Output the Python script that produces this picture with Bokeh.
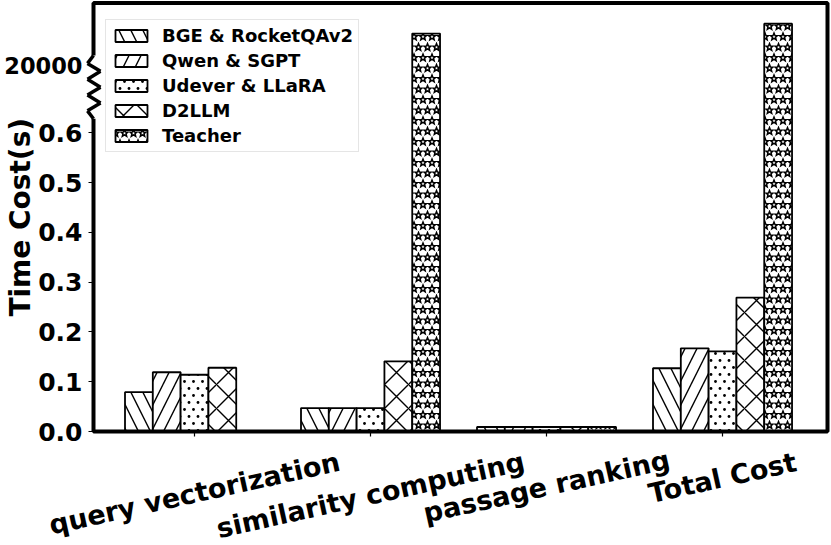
import base64
import math
import numpy as np
from bokeh.plotting import figure
from bokeh.models import (ColumnDataSource, Range1d, FixedTicker, PrintfTickFormatter,
                          BoxAnnotation, Label, LabelSet, PolyAnnotation, Arrow, ImageURLTexture)
from bokeh.core.properties import value
from bokeh.embed import file_html
from bokeh.resources import INLINE

# ---------------- data ----------------
categories = ["query vectorization", "similarity computing", "passage ranking", "Total Cost"]
series_names = ["BGE & RocketQAv2", "Qwen & SGPT", "Udever & LLaRA", "D2LLM", "Teacher"]
bge = [0.079, 0.047, 0.009, 0.127]
qwen = [0.119, 0.047, 0.009, 0.167]
udever = [0.114, 0.047, 0.009, 0.161]
d2llm = [0.128, 0.141, 0.009, 0.269]
teacher = [0.0, 20640.0, 0.009, 20840.0]      # seconds (drawn above the axis break)
y_ticks = [0.0, 0.1, 0.2, 0.3, 0.4, 0.5, 0.6]
break_tick_value = 20000
break_tick_label = "20000"

# ---------------- layout / scale constants ----------------
W, H = 831, 545
PXU_X, PXU_Y = 176.0, 498.0     # pixels per data unit
VIS_L, VIS_R, VIS_T, VIS_B = 93.0, 827.0, 2.5, 431.0   # visual plot box in canvas px
XV0 = -0.574                    # data x at the visual left edge
x_start = XV0 - VIS_L / PXU_X
x_end = x_start + W / PXU_X
XV1 = x_start + VIS_R / PXU_X
y_start = -(H - VIS_B) / PXU_Y
y_end = y_start + H / PXU_Y
YV1 = y_end - VIS_T / PXU_Y
PX_X = 1.0 / PXU_X

break_tick_pos = 0.735          # display position of the 20000 tick
upper_scale = 1e-4              # display units per second above the break
break_lo, break_hi = 0.628, 0.755


def to_display(v):
    return v if v < 1 else break_tick_pos + (v - break_tick_value) * upper_scale


# ---------------- textures ----------------
def star_path(cx, cy, ro, ri):
    pts = []
    for k in range(10):
        r = ro if k % 2 == 0 else ri
        a = -math.pi / 2 + k * math.pi / 5
        pts.append(f"{cx + r * math.cos(a):.2f},{cy + r * math.sin(a):.2f}")
    return "M" + " L".join(pts) + " Z"


def data_url(svg):
    return "data:image/svg+xml;base64," + base64.b64encode(svg.encode()).decode()


stars_svg = ('<svg xmlns="http://www.w3.org/2000/svg" width="9" height="21">'
             f'<path d="{star_path(4.5, 5.25, 3.7, 1.6)} {star_path(0, 15.75, 3.7, 1.6)} '
             f'{star_path(9, 15.75, 3.7, 1.6)}" fill="none" stroke="black" stroke-width="1.5"/></svg>')
dots_svg = ('<svg xmlns="http://www.w3.org/2000/svg" width="9" height="14">'
            '<circle cx="4.5" cy="3.5" r="1.4" fill="black"/>'
            '<circle cx="0" cy="10.5" r="1.4" fill="black"/>'
            '<circle cx="9" cy="10.5" r="1.4" fill="black"/></svg>')
textures = {"stars": ImageURLTexture(url=data_url(stars_svg)),
            "dots": ImageURLTexture(url=data_url(dots_svg))}

# ---------------- figure ----------------
p = figure(width=W, height=H, x_range=Range1d(x_start, x_end), y_range=Range1d(y_start, y_end),
           output_backend="svg", toolbar_location=None, min_border=0)
p.outline_line_color = None
p.grid.visible = False
p.background_fill_color = "white"
p.border_fill_color = "white"

bar_w = 0.158
hatches = ["\\", "/", "dots", "x", "stars"]
all_series = [bge, qwen, udever, d2llm, teacher]
for i, (name, vals) in enumerate(zip(series_names, all_series)):
    src = ColumnDataSource(dict(x=[j + (i - 2) * bar_w for j in range(len(categories))],
                                top=[to_display(v) for v in vals]))
    p.vbar(x="x", top="top", bottom=0, width=bar_w, source=src, fill_color="white",
           line_color="black", line_width=1.8,
           hatch_pattern=value(hatches[i]), hatch_color="black", hatch_weight=1.4,
           hatch_scale=24, hatch_extra=textures, legend_label=name)

# axes pinned to the visual box
p.yaxis.fixed_location = XV0
p.yaxis.bounds = (0, YV1)
p.yaxis.ticker = FixedTicker(ticks=y_ticks)
p.yaxis.formatter = PrintfTickFormatter(format="%.1f")
p.yaxis.major_label_text_font = "DejaVu Sans"
p.yaxis.major_label_text_font_style = "bold"
p.yaxis.major_label_text_font_size = "25px"
p.yaxis.major_label_text_color = "black"
p.yaxis.major_label_standoff = 6
p.xaxis.fixed_location = 0
p.xaxis.bounds = (XV0, XV1)
p.xaxis.ticker = FixedTicker(ticks=list(range(len(categories))))
p.xaxis.major_label_text_font_size = "1px"
p.xaxis.major_label_text_alpha = 0
for ax in (p.xaxis, p.yaxis):
    ax.axis_line_color = None
    ax.major_tick_out = 5
    ax.major_tick_in = 0
    ax.major_tick_line_width = 1.2
    ax.major_tick_line_color = "black"
    ax.minor_tick_line_color = None

# frame border
p.add_layout(BoxAnnotation(left=XV0, right=XV1, bottom=0, top=YV1, fill_alpha=0,
                           line_color="black", line_width=4, line_alpha=1.0))

# axis break on the left spine
p.add_layout(PolyAnnotation(xs=[XV0 - 3 * PX_X, XV0 + 3 * PX_X, XV0 + 3 * PX_X, XV0 - 3 * PX_X],
                            ys=[break_lo, break_lo, break_hi, break_hi],
                            fill_color="white", fill_alpha=1.0, line_color=None))
zy = np.linspace(break_hi, break_lo, 9)
zx = XV0 + np.array([0, -6, 7, -6, 7, -6, 7, -6, 0]) * PX_X
zsrc = ColumnDataSource(dict(x_start=zx[:-1], y_start=zy[:-1], x_end=zx[1:], y_end=zy[1:]))
p.add_layout(Arrow(end=None, source=zsrc, x_start="x_start", y_start="y_start",
                   x_end="x_end", y_end="y_end", line_color="black", line_width=3.5))

p.add_layout(Label(x=XV0, y=break_tick_pos, x_offset=-11, text=break_tick_label,
                   text_align="right", text_baseline="middle", text_font="DejaVu Sans",
                   text_font_style="bold", text_font_size="22.5px", text_color="black"))

p.add_layout(Label(x=XV0, y=YV1 / 2, x_offset=-73, text="Time Cost(s)",
                   angle=math.pi / 2, text_align="center", text_baseline="middle",
                   text_font="DejaVu Sans", text_font_style="bold", text_font_size="28px",
                   text_color="black"))

# rotated category labels, centred under their ticks
fs = 27
theta = math.radians(12.5)
offs = []
for c in categories:
    wtxt = 0.585 * len(c) * fs
    offs.append(-(16 + (math.sin(theta) * wtxt + math.cos(theta) * fs) / 2))
lsrc = ColumnDataSource(dict(x=list(range(len(categories))), y=[0.0] * len(categories),
                             text=categories, yoff=offs))
p.add_layout(LabelSet(x="x", y="y", text="text", y_offset="yoff", source=lsrc,
                      angle=theta, text_align="center", text_baseline="middle",
                      text_font=value("DejaVu Sans"), text_font_style="bold",
                      text_font_size=value(f"{fs}px"), text_color="black"))

# legend
lg = p.legend[0]
lg.location = (105, H - 152)
lg.margin = 0
lg.padding = 5
lg.spacing = 4
lg.glyph_width = 40
lg.glyph_height = 15
lg.label_height = 15
lg.label_standoff = 11
lg.label_text_font = "DejaVu Sans"
lg.label_text_font_style = "bold"
lg.label_text_font_size = "18px"
lg.label_text_color = "black"
lg.border_line_color = "#cccccc"
lg.border_line_width = 1.2
lg.background_fill_alpha = 0.8

open("out.html", "w").write(file_html(p, INLINE))
